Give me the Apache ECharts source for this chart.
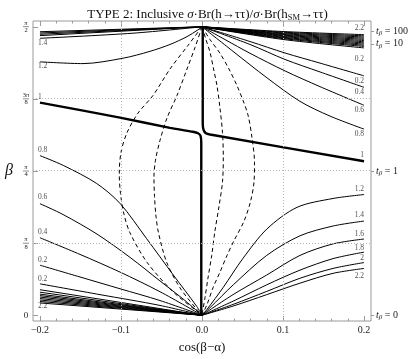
<!DOCTYPE html>
<html>
<head>
<meta charset="utf-8">
<script src="https://cdn.jsdelivr.net/npm/echarts@6/dist/echarts.min.js"></script>
<style>
html, body { margin: 0; padding: 0; background: #fff; }
#main { width: 415px; height: 359px; }
</style>
</head>
<body>
<div id="main"></div>
<script>
// 轴范围与刻度
var xMin = -0.2086, xMax = 0.2086;
var yMin = -0.0314, yMax = 1.6022;
var xMajor = [-0.2, -0.1, 0, 0.1, 0.2];
var xMinor = [-0.18, -0.16, -0.14, -0.12, -0.08, -0.06, -0.04, -0.02,
              0.02, 0.04, 0.06, 0.08, 0.12, 0.14, 0.16, 0.18];
var yTickVals = [0, Math.PI / 8, Math.PI / 4, 3 * Math.PI / 8, Math.PI / 2];
var yTickNum = ['0', 'π', 'π', '3π', 'π'];
var yTickDen = ['', '8', '4', '8', '2'];
var tbVals = [1.548, 1.478, 0.7854, 0];
var tbNames = ['100', '10', '1', '0'];

// 左上：汇聚到 (0, π/2) 的一簇线，x = -0.2 处的 β
var bundleTopLeft = [1.5438, 1.5369, 1.5299, 1.5225];
// 左下：汇聚到 (0, 0) 的一簇线，x = -0.2 处的 β
var bundleBottomLeft = [0.1389, 0.1255, 0.1149, 0.1068, 0.0988, 0.0908, 0.0828, 0.0748, 0.0668];
// 右上：汇聚到 (0, π/2) 的一簇线，[x = 0.1 处的 β, x = 0.2 处的 β]
var bundleTopRight = [
  [1.5449, 1.5278], [1.5412, 1.5214], [1.5374, 1.5150], [1.5332, 1.5086],
  [1.5294, 1.5022], [1.5257, 1.4958], [1.5220, 1.4893], [1.5182, 1.4829],
  [1.5139, 1.4765], [1.5102, 1.4701], [1.5064, 1.4637], [1.5016, 1.4557]
];

// 单独的等值线 [cos(β-α), β]
var solidLines = [
  // 左上 1.4, 1.2
  [[-0.2, 1.5080], [-0.0852, 1.5358], [0, 1.5708]],
  [[-0.2, 1.3798], [-0.1469, 1.3702], [-0.0975, 1.3996], [-0.0642, 1.4370], [-0.0395, 1.4744], [-0.0185, 1.5171], [-0.0049, 1.5545], [0, 1.5708]],
  // 左下 0.8, 0.6, 0.4, 0.2, 0.2
  [[-0.2, 0.8691], [-0.1712, 0.8157], [-0.13, 0.7174], [-0.1012, 0.6090], [-0.0683, 0.4167], [-0.0354, 0.2190], [-0.0065, 0.0481], [0, 0]],
  [[-0.2, 0.6074], [-0.1716, 0.5486], [-0.1296, 0.4418], [-0.0889, 0.3152], [-0.0519, 0.1870], [-0.021, 0.0801], [0, 0]],
  [[-0.2, 0.4220], [-0.1506, 0.3312], [-0.1012, 0.2350], [-0.0519, 0.1282], [0, 0]],
  [[-0.2, 0.2724], [-0.1506, 0.2083], [-0.1012, 0.1442], [-0.0519, 0.0801], [0, 0]],
  [[-0.2, 0.1709], [-0.1259, 0.1122], [-0.0519, 0.0534], [0, 0]],
  // 右下 1.2 ... 2.2
  [[0, 0], [0.0062, 0.0321], [0.0259, 0.1496], [0.0506, 0.3098], [0.0802, 0.4701], [0.1173, 0.5876], [0.1617, 0.6357], [0.2, 0.6571]],
  [[0, 0], [0.0099, 0.0411], [0.0386, 0.1656], [0.0799, 0.3259], [0.121, 0.4327], [0.1621, 0.4861], [0.2, 0.5128]],
  [[0, 0], [0.0383, 0.1122], [0.0799, 0.2190], [0.121, 0.3259], [0.1617, 0.3884], [0.2, 0.4151]],
  [[0, 0], [0.0383, 0.0764], [0.0799, 0.1656], [0.121, 0.2457], [0.1617, 0.3082], [0.2, 0.3435]],
  [[0, 0], [0.0383, 0.0588], [0.0799, 0.1298], [0.121, 0.2014], [0.1617, 0.2548], [0.2, 0.2869]],
  [[0, 0], [0.0383, 0.0497], [0.0799, 0.1122], [0.121, 0.1747], [0.1617, 0.2281], [0.2, 0.2548]],
  // 右上 0.2, 0.4, 0.6, 0.8
  [[0, 1.5708], [0.0593, 1.4904], [0.1025, 1.4279], [0.1457, 1.3729], [0.2, 1.3034]],
  [[0, 1.5708], [0.0593, 1.4744], [0.1025, 1.3927], [0.1457, 1.3248], [0.2, 1.2410]],
  [[0, 1.5708], [0.0284, 1.5011], [0.0593, 1.4263], [0.1025, 1.3302], [0.1457, 1.2447], [0.2, 1.1432]],
  [[0, 1.5708], [0.0383, 1.4370], [0.0802, 1.2928], [0.121, 1.1646], [0.158, 1.0844], [0.2, 1.0134]]
];

// 比值 = 1 的粗线（两支）
var contourOneLeft = [[-0.2, 1.1576], [-0.1012, 1.0764], [-0.0395, 1.0203], [-0.0111, 0.9990], [-0.0049, 0.9909], [-0.0019, 0.9776], [-0.0009, 0.9402], [-0.0009, 0]];
var contourOneRight = [[0.0009, 1.5708], [0.0009, 1.0470], [0.0019, 1.0096], [0.0049, 0.9909], [0.0099, 0.9840], [0.2, 0.8387]];

// 虚线
var dashedLines = [
  [[0, 1.5708], [-0.0173, 1.4691], [-0.0395, 1.3408], [-0.0605, 1.1966], [-0.0790, 1.1005], [-0.0926, 0.9936], [-0.1000, 0.8868], [-0.1021, 0.7692], [-0.1006, 0.6624], [-0.0963, 0.5502], [-0.0889, 0.4487], [-0.0679, 0.2885], [-0.0358, 0.1282], [-0.0062, 0.0214], [0, 0]],
  [[0, 1.5708], [-0.0086, 1.4584], [-0.0185, 1.3408], [-0.0309, 1.1966], [-0.0432, 1.0737], [-0.0519, 0.9509], [-0.0574, 0.8440], [-0.0593, 0.7532], [-0.0586, 0.6464], [-0.0568, 0.5395], [-0.0537, 0.4487], [-0.0436, 0.2885], [-0.0272, 0.1496], [-0.0065, 0.0321], [0, 0]],
  [[0, 1.5708], [0.0049, 1.5011], [0.0099, 1.4317], [0.0148, 1.3302], [0.0185, 1.2500], [0.0222, 1.1272], [0.0253, 0.9936], [0.0263, 0.8601], [0.0253, 0.7265], [0.021, 0.5930], [0.016, 0.4594], [0.012, 0.3259], [0.0074, 0.2030], [0.0037, 0.0962], [0, 0]],
  [[0, 1.5708], [0.0099, 1.5011], [0.0222, 1.4263], [0.0333, 1.3408], [0.0432, 1.2500], [0.0506, 1.1699], [0.0568, 1.0898], [0.0617, 0.9669], [0.0648, 0.8334], [0.0642, 0.7265], [0.0599, 0.6197], [0.0519, 0.5128], [0.0395, 0.4060], [0.0309, 0.3259], [0.0222, 0.2350], [0.0136, 0.1496], [0.0062, 0.0588], [0, 0]]
];

// 等值线标签 [x, β, 文字]
var leftLabels = [
  [-0.2, 1.4797, '1.4'], [-0.2, 1.3569, '1.2'], [-0.2, 1.1897, '1'], [-0.2, 0.8991, '0.8'],
  [-0.2, 0.6427, '0.6'], [-0.2, 0.4525, '0.4'], [-0.2, 0.3029, '0.2'], [-0.2, 0.1993, '0.2'],
  [-0.2, 0.0481, '2.2']
];
var rightLabels = [
  [0.2, 1.5615, '2.2'], [0.2, 1.3927, '0.2'], [0.2, 1.2767, '0.2'], [0.2, 1.2143, '0.4'],
  [0.2, 1.1165, '0.6'], [0.2, 0.9883, '0.8'], [0.2, 0.8724, '1'], [0.2, 0.6854, '1.2'],
  [0.2, 0.5433, '1.4'], [0.2, 0.4418, '1.6'], [0.2, 0.3670, '1.8'], [0.2, 0.3136, '2'],
  [0.2, 0.2137, '2.2']
];

var serif = '"Liberation Serif", "DejaVu Serif", serif';
var frameColor = '#9a9a9a';
var myChart = echarts.init(document.getElementById('main'));

function mkLine(pts, style, smooth) {
  return {
    type: 'line', data: pts, showSymbol: false, silent: true,
    smooth: smooth, lineStyle: style, z: 3
  };
}

var series = [];
var thin = { color: '#000', width: 1 };
bundleTopLeft.forEach(function (b) {
  series.push(mkLine([[-0.2, b], [0, Math.PI / 2]], thin, false));
});
bundleBottomLeft.forEach(function (b) {
  series.push(mkLine([[-0.2, b], [0, 0]], thin, false));
});
bundleTopRight.forEach(function (b) {
  series.push(mkLine([[0, Math.PI / 2], [0.1, b[0]], [0.2, b[1]]], thin, 0.3));
});
solidLines.forEach(function (pts) {
  series.push(mkLine(pts, thin, 0.3));
});
var thick = { color: '#000', width: 2.4 };
series.push(mkLine(contourOneLeft, thick, 0.2));
series.push(mkLine(contourOneRight, thick, 0.2));
dashedLines.forEach(function (pts) {
  series.push(mkLine(pts, { color: '#000', width: 1, type: [4, 3] }, 0.3));
});

// 网格虚线
series[0].markLine = {
  silent: true, symbol: 'none', label: { show: false }, animation: false,
  lineStyle: { color: '#b5b5b5', width: 1, type: [1, 2] },
  data: [{ xAxis: -0.1 }, { xAxis: 0.1 }, { yAxis: Math.PI / 8 }, { yAxis: Math.PI / 4 }, { yAxis: 3 * Math.PI / 8 }]
};

function labelSeries(arr, align) {
  return {
    type: 'scatter', silent: true, symbolSize: 0.1, z: 5,
    itemStyle: { color: 'rgba(0,0,0,0)' },
    data: arr.map(function (d) { return { value: d }; }),
    label: {
      show: true, position: 'inside', align: align, verticalAlign: 'middle',
      offset: [align === 'left' ? -2 : 0, 0],
      fontFamily: serif, fontSize: 7.5, color: '#222',
      formatter: function (p) { return p.value[2]; }
    }
  };
}
series.push(labelSeries(leftLabels, 'left'));
series.push(labelSeries(rightLabels, 'right'));

var baseX = { type: 'value', min: xMin, max: xMax, splitLine: { show: false } };
var baseY = { type: 'value', min: yMin, max: yMax, splitLine: { show: false } };

option = {
  animation: false,
  backgroundColor: '#fff',
  title: {
    left: 'center', top: 3,
    text: '{a|TYPE 2: Inclusive }{i|σ}{a|·Br(h→ττ)/}{i|σ}{a|·Br(h}{s|SM}{a|→ττ)}',
    textStyle: {
      fontWeight: 'normal',
      rich: {
        a: { fontFamily: serif, fontSize: 13, fontWeight: 'normal', color: '#111' },
        i: { fontFamily: serif, fontSize: 13, fontWeight: 'normal', fontStyle: 'italic', color: '#111' },
        s: { fontFamily: serif, fontSize: 8.5, fontWeight: 'normal', color: '#111', padding: [5, 0, 0, 0] }
      }
    }
  },
  grid: {
    left: 33, right: 44, top: 21, bottom: 32,
    show: true, borderColor: frameColor, borderWidth: 1, backgroundColor: 'transparent'
  },
  xAxis: [
    Object.assign({}, baseX, {
      position: 'bottom',
      axisLine: { show: false, onZero: false },
      axisTick: { inside: true, length: 5, customValues: xMajor, lineStyle: { color: frameColor } },
      axisLabel: {
        customValues: xMajor, margin: 4, fontFamily: serif, fontSize: 10, color: '#222',
        formatter: function (v) { return (v < 0 ? '−' : '') + Math.abs(v).toFixed(1); }
      },
      name: 'cos(β−α)', nameLocation: 'middle', nameGap: 20,
      nameTextStyle: { fontFamily: serif, fontSize: 13, color: '#111' }
    }),
    Object.assign({}, baseX, {
      position: 'top',
      axisLine: { show: false, onZero: false },
      axisTick: { inside: true, length: 5, customValues: xMajor, lineStyle: { color: frameColor } },
      axisLabel: { show: false }
    }),
    Object.assign({}, baseX, {
      position: 'bottom',
      axisLine: { show: false, onZero: false },
      axisTick: { inside: true, length: 2.5, customValues: xMinor, lineStyle: { color: frameColor } },
      axisLabel: { show: false }
    }),
    Object.assign({}, baseX, {
      position: 'top',
      axisLine: { show: false, onZero: false },
      axisTick: { inside: true, length: 2.5, customValues: xMinor, lineStyle: { color: frameColor } },
      axisLabel: { show: false }
    })
  ],
  yAxis: [
    Object.assign({}, baseY, {
      position: 'left',
      axisLine: { show: false, onZero: false },
      axisTick: { inside: true, length: 5, customValues: yTickVals, lineStyle: { color: frameColor } },
      axisLabel: {
        customValues: yTickVals, margin: 7, align: 'center', color: '#222',
        formatter: function (v) {
          var i = yTickVals.indexOf(v);
          if (i <= 0) return '{z|0}';
          return '{n|' + yTickNum[i] + '}\n{bar| }\n{d|' + yTickDen[i] + '}';
        },
        rich: {
          z: { fontFamily: serif, fontSize: 9, color: '#222' },
          n: { fontFamily: serif, fontSize: 6.5, lineHeight: 5.5, color: '#222', align: 'center' },
          d: { fontFamily: serif, fontSize: 6.5, lineHeight: 5.5, color: '#222', align: 'center' },
          bar: { width: 6, height: 0.6, lineHeight: 2, backgroundColor: '#444', align: 'center' }
        }
      },
      name: 'β', nameLocation: 'middle', nameGap: 20, nameRotate: 0,
      nameTextStyle: { fontFamily: serif, fontSize: 16, fontStyle: 'italic', color: '#111' }
    }),
    Object.assign({}, baseY, {
      position: 'right',
      axisLine: { show: false, onZero: false },
      axisTick: { inside: false, length: 3, customValues: tbVals, lineStyle: { color: frameColor } },
      axisLabel: {
        customValues: tbVals, margin: 5, fontFamily: serif, fontSize: 10, color: '#222',
        formatter: function (v) {
          var i = tbVals.indexOf(v);
          return '{t|t}{s|β}{a| = ' + tbNames[i] + '}';
        },
        rich: {
          t: { fontFamily: serif, fontSize: 10, fontStyle: 'italic', color: '#222' },
          s: { fontFamily: serif, fontSize: 7, fontStyle: 'italic', color: '#222', padding: [4, 0, 0, 0] },
          a: { fontFamily: serif, fontSize: 10, color: '#222' }
        }
      }
    })
  ],
  series: series
};

myChart.setOption(option);
</script>
</body>
</html>
